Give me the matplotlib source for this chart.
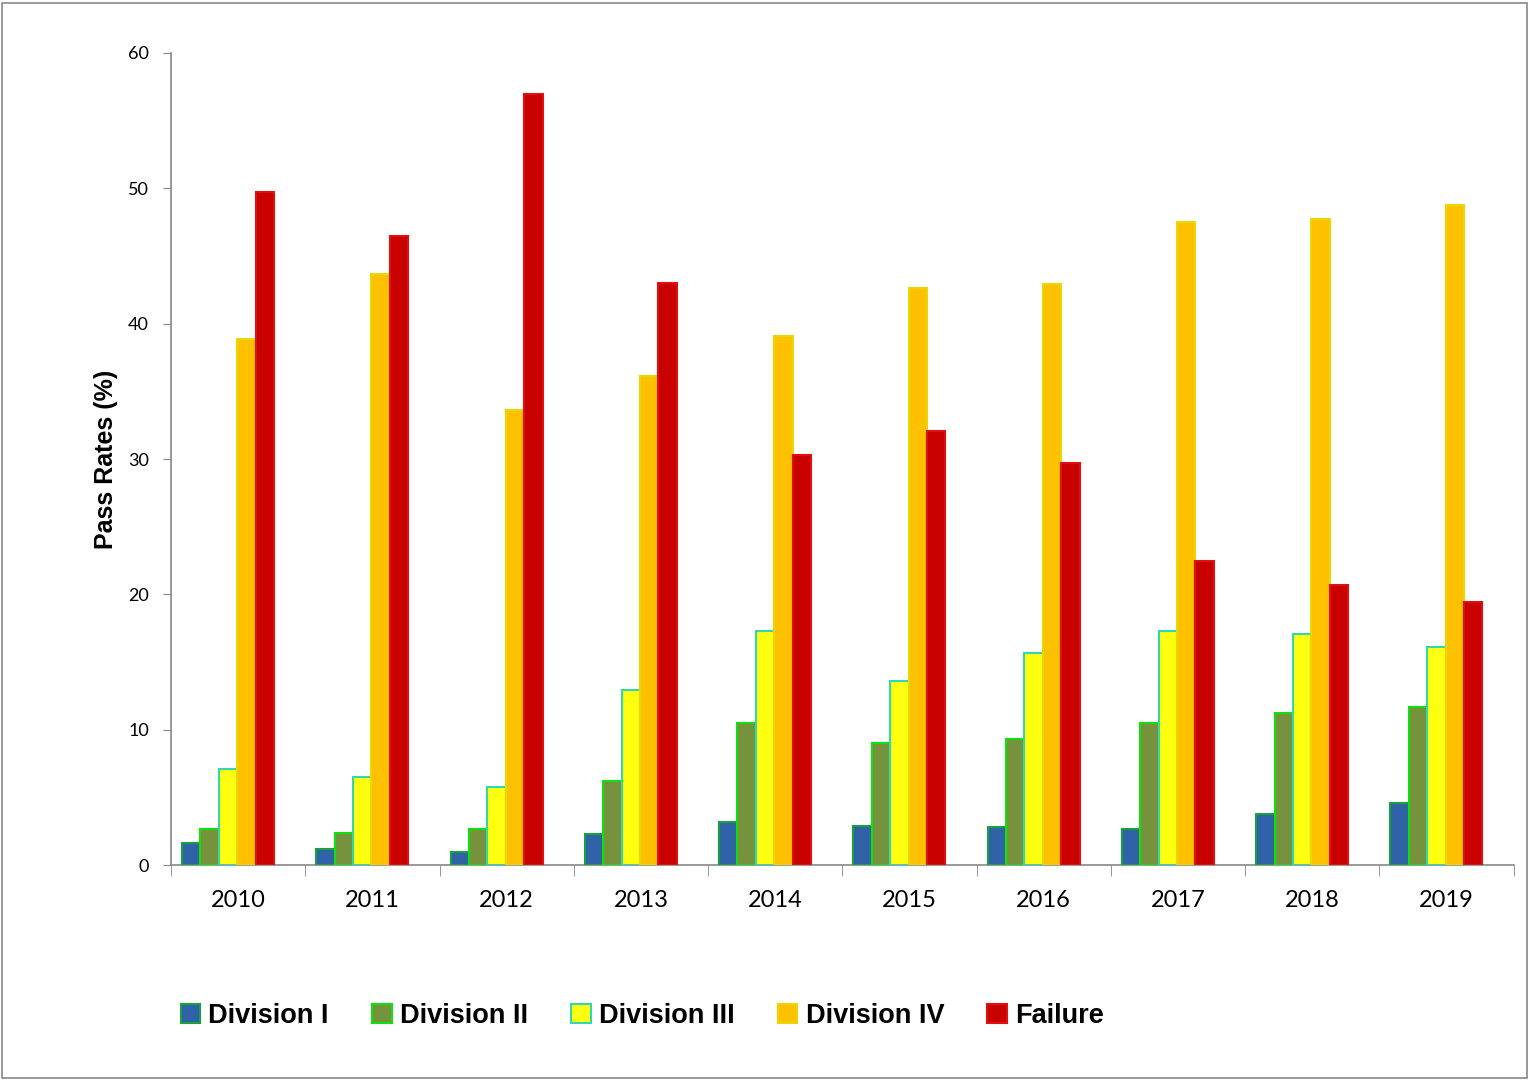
import matplotlib
matplotlib.use("Agg")
import matplotlib.pyplot as plt
from matplotlib.patches import Rectangle, Patch
import numpy as np

plt.rcParams['font.family'] = ['Lato', 'DejaVu Sans']

years = ['2010', '2011', '2012', '2013', '2014', '2015', '2016', '2017', '2018', '2019']
division_1 = [1.6, 1.2, 1.0, 2.3, 3.2, 2.9, 2.8, 2.7, 3.8, 4.6]
division_2 = [2.7, 2.4, 2.7, 6.2, 10.5, 9.0, 9.3, 10.5, 11.2, 11.7]
division_3 = [7.1, 6.5, 5.8, 12.9, 17.3, 13.6, 15.7, 17.3, 17.1, 16.1]
division_4 = [38.9, 43.7, 33.6, 36.1, 39.1, 42.6, 42.9, 47.5, 47.7, 48.8]
failure = [49.7, 46.5, 57.0, 43.0, 30.3, 32.1, 29.7, 22.5, 20.7, 19.4]
series_names = ['Division I', 'Division II', 'Division III', 'Division IV', 'Failure']

series = [division_1, division_2, division_3, division_4, failure]
faces = ['#2F62A6', '#77923D', '#FFFF10', '#FFC000', '#C80000']
edges = ['#18A040', '#10E010', '#30D8B0', '#E8D800', '#E01010']

bold_font = ['Liberation Sans', 'DejaVu Sans']

fig = plt.figure(figsize=(15.31, 10.8), dpi=100)
ax = fig.add_axes([0.1117, 0.199, 0.877, 0.752])

x = np.arange(len(years))
bw = 0.137
start = -0.418
for k, (vals, fc, ec, name) in enumerate(zip(series, faces, edges, series_names)):
    pos = x + start + bw * (k + 0.5)
    ax.bar(pos, vals, width=bw, color=fc, edgecolor=ec, linewidth=1.5, label=name, zorder=3)

ax.set_xlim(-0.5, len(years) - 0.5)
ax.set_ylim(0, 60)
ax.set_yticks(range(0, 61, 10))
ax.tick_params(axis='y', labelsize=13, length=6, color='#888888', pad=10)
ax.set_xticks(x)
ax.set_xticklabels(years, fontsize=17)
ax.tick_params(axis='x', length=0, pad=18)
ax.set_xticks(np.arange(-0.5, len(years)), minor=True)
ax.tick_params(axis='x', which='minor', length=8, color='#888888')
for s in ['top', 'right']:
    ax.spines[s].set_visible(False)
for s in ['left', 'bottom']:
    ax.spines[s].set_color('#888888')
    ax.spines[s].set_linewidth(1.2)

ax.set_ylabel('Pass Rates (%)', fontsize=18, fontweight='bold', family=bold_font, labelpad=7)

handles = [Patch(facecolor=fc, edgecolor=ec, linewidth=1.5) for fc, ec in zip(faces, edges)]
fig.legend(handles, series_names, loc='center left', bbox_to_anchor=(0.118, 0.059),
           ncol=5, frameon=False, prop={'size': 19.5, 'weight': 'bold', 'family': bold_font},
           handlelength=0.72, handleheight=0.72, handletextpad=0.3, columnspacing=1.6,
           borderaxespad=0, borderpad=0)

fig.patches.append(Rectangle((0.0015, 0.002), 0.996, 0.995, transform=fig.transFigure,
                             fill=False, edgecolor='#888888', linewidth=1.2))

fig.savefig('out.png', dpi=100)
